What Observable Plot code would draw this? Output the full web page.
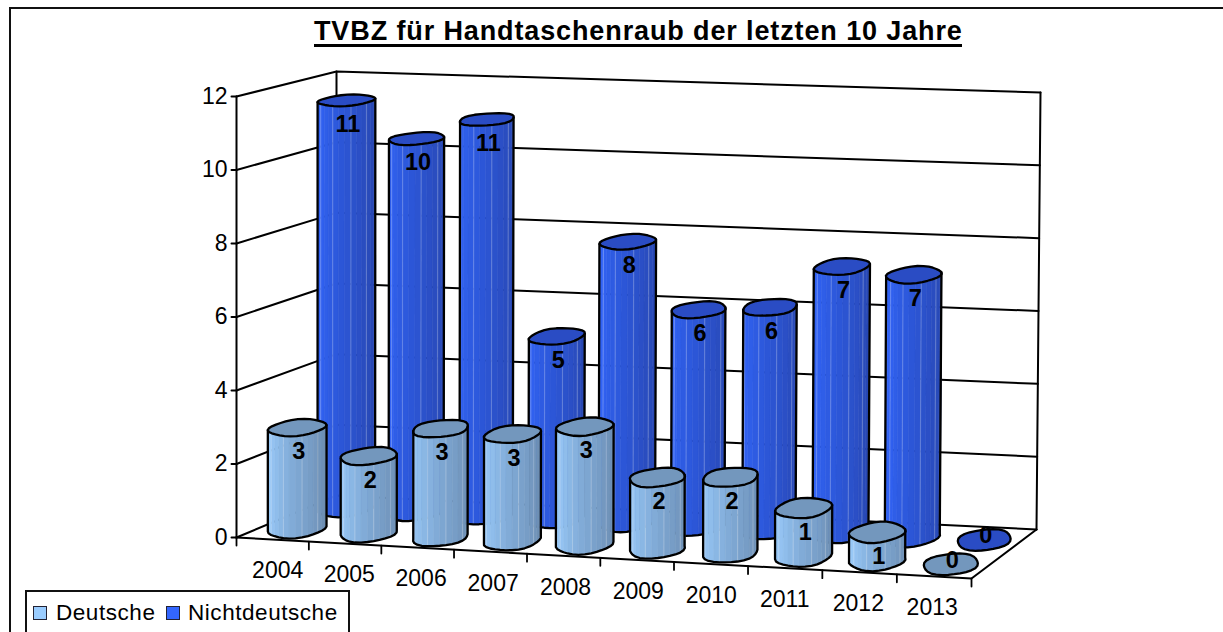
<!DOCTYPE html>
<html lang="de">
<head>
<meta charset="utf-8">
<script src="https://cdn.jsdelivr.net/npm/d3@7"></script>
<script src="https://cdn.jsdelivr.net/npm/@observablehq/plot@0.6"></script>
<style>
html,body{margin:0;padding:0;background:#fff;width:1223px;height:632px;overflow:hidden;font-family:"Liberation Sans",Arial,sans-serif;color:#000}
#wrap{position:relative;width:1223px;height:632px;overflow:hidden}
#frame{position:absolute;left:9px;top:7px;width:1300px;height:700px;border-top:2.5px solid #111;border-left:2.5px solid #111}
#title{position:absolute;left:314px;top:14px;width:648px;height:30px;line-height:34px;border-bottom:3px solid #000;text-align:center;font-weight:bold;font-size:27px;letter-spacing:.88px;white-space:nowrap}
#legend{position:absolute;left:25px;top:590px;width:321px;height:60px;border:2px solid #111;background:#fff;font-size:22.5px}
#legend span{position:absolute;top:8px;white-space:nowrap;line-height:26px}
#legend i{position:absolute;top:14px;width:12px;height:12px;border:1.5px solid #223}
svg{position:absolute;left:0;top:0}
g[aria-label="ticks"] text{letter-spacing:.35px}
</style>
</head>
<body>
<div id="wrap">
<div id="chart"></div>
<div id="frame"></div>
<div id="title">TVBZ für Handtaschenraub der letzten 10 Jahre</div>
<div id="legend">
  <i style="left:6px;background:#99ccff"></i><span style="left:29px;letter-spacing:.55px">Deutsche</span>
  <i style="left:139px;background:#3366ff"></i><span style="left:161px;letter-spacing:.55px">Nichtdeutsche</span>
</div>
</div>
<script>
// Data
const years = ["2004","2005","2006","2007","2008","2009","2010","2011","2012","2013"];
const deutsche = [2.78,2.1,2.95,2.9,3.2,1.92,2.03,1.3,0.75,0];
const nichtdeutsche = [11.4,10.4,11.0,5.05,7.75,5.95,6.1,7.3,7.15,0];
const valueTicks = [0,2,4,6,8,10,12];

// The 3-D box of the chart, as a projection of (category, depth, value)
const box = {
  flb:[236,537], flt:[236,96],  blb:[336,495], blt:[336,71],
  frb:[971,578], frt:[971,126], brb:[1036,529], brt:[1040,92]
};
const lerp=(a,b,t)=>a+(b-a)*t;
function project(u0,d,v){
  const u=u0-.005*Math.sin(Math.PI*u0);
  const w=v/12, out=[];
  for(const k of [0,1]){
    const fl=lerp(box.flb[k],box.flt[k],w), fr=lerp(box.frb[k],box.frt[k],w),
          bl=lerp(box.blb[k],box.blt[k],w), br=lerp(box.brb[k],box.brt[k],w);
    out.push(lerp(lerp(fl,fr,u),lerp(bl,br,u),d));
  }
  return out;
}
const RU=.0355, RDX=.13, RDY=.22;
function rim(i,dc,v,th){
  const uc=(i+.5)/years.length, r=1+.035*Math.sin(4*th+i*1.7);
  const u=uc+RU*r*Math.cos(th);
  const px=project(u,dc+RDX*r*Math.sin(th),v)[0];
  const py=project(u,dc+RDY*r*Math.sin(th),v)[1];
  return {x:px,y:py};
}
const N=14, STEPS=d3.range(N+1);

function cylinder(values,dc,ramp,topColor,row){
  const strips=[],tops=[],outline=[],stripes=[];
  values.forEach((v,i)=>{
    const A=RU*726, B=RDX*85, th0=Math.atan2(B,A);
    const angle=t=>th0+Math.PI+Math.PI*t;
    if(v>0){
      STEPS.slice(0,N).forEach(s=>{
        const a=angle(s/N), b=angle((s+1)/N), id=`${row}${i}-${s}`, c=ramp((s+.5)/N);
        for(const p of [rim(i,dc,0,a),rim(i,dc,0,b),rim(i,dc,v,b),rim(i,dc,v,a),rim(i,dc,0,a)])
          strips.push({...p,id,c});
        if(s%3===1){
          const sid=`${row}${i}-l${s}`;
          stripes.push({...rim(i,dc,0,b),id:sid},{...rim(i,dc,v,b),id:sid});
        }
      });
      const oid=`${row}${i}-side`;
      [rim(i,dc,v,angle(0)),...STEPS.map(s=>rim(i,dc,0,angle(s/N))),rim(i,dc,v,angle(1))]
        .forEach(p=>outline.push({...p,id:oid}));
    }
    const tid=`${row}${i}-top`;
    d3.range(29).forEach(s=>{
      const p=rim(i,dc,v,s/28*2*Math.PI);
      tops.push({...p,id:tid,c:topColor});
      outline.push({...p,id:tid});
    });
  });
  return [
    Plot.line(strips,{x:"x",y:"y",z:"id",fill:"c",stroke:"c",strokeWidth:.6}),
    Plot.line(stripes,{x:"x",y:"y",z:"id",stroke:"#fff",strokeOpacity:.22,strokeWidth:1.2}),
    Plot.line(tops,{x:"x",y:"y",z:"id",fill:"c",stroke:"none"}),
    Plot.line(outline,{x:"x",y:"y",z:"id",stroke:"#000",strokeWidth:2.3})
  ];
}

const seg=(id,pts)=>pts.map(([u,d,v])=>{const [x,y]=project(u,d,v);return {x,y,id};});
const wall=[
  ...valueTicks.flatMap(v=>seg(`g${v}`,[[0,0,v],[0,1,v],[1,1,v]])),
  ...seg("left",[[0,0,0],[0,0,12]]),
  ...seg("back",[[0,1,0],[0,1,12]]),
  ...seg("right",[[1,1,0],[1,1,12]]),
  ...seg("floor",[[0,0,0],[1,0,0],[1,1,0]])
];
const valueTickLines=valueTicks.flatMap(v=>{const [x,y]=project(0,0,v);return [{x,y,id:v},{x:x-5,y,id:v}];});
const catTicks=d3.range(years.length+1).flatMap(k=>{const [x,y]=project(k/years.length,0,0);return [{x,y,id:k},{x,y:y+8,id:k}];});

const catLabels=years.map((t,i)=>{const [x,y]=project((i+.5)/years.length,0,0);return {x:x+5-7*i/9,y:y+31.5,t};});
const valueLabels=valueTicks.map(v=>{const [x,y]=project(0,0,v);return {x:x-9,y,t:String(v)};});

const topLabel=(values,dc)=>values.map((v,i)=>{
  const [x,y]=project((i+.5)/years.length,dc,v);
  return {x:x+1.5,y:y+(v>0?24:-4),t:d3.format(".0f")(v)};
});

const ramp=(stops)=>d3.scaleLinear().domain(d3.range(stops.length).map(i=>i/(stops.length-1))).range(stops);
const blueRamp=ramp(["#3366ff","#2f5ee8","#2c55d4","#2a4dc0","#2745ac"]);
const lightRamp=ramp(["#9fd0ff","#8fbdeb","#7fa8d4","#7498c0","#6a8aac"]);

const plot=Plot.plot({
  width:1223,height:632,margin:0,
  x:{domain:[0,1223],range:[0,1223],axis:null},
  y:{domain:[0,632],range:[0,632],axis:null},
  color:{type:"identity"},
  style:{fontFamily:"'Liberation Sans',Arial,sans-serif",background:"transparent",color:"#000"},
  marks:[
    Plot.line(wall,{x:"x",y:"y",z:"id",stroke:"#000",strokeWidth:2}),
    Plot.line(valueTickLines,{x:"x",y:"y",z:"id",stroke:"#000",strokeWidth:2}),
    Plot.line(catTicks,{x:"x",y:"y",z:"id",stroke:"#000",strokeWidth:1.8}),
    ...cylinder(nichtdeutsche,.75,blueRamp,"#2a4cc4","b"),
    ...cylinder(deutsche,.25,lightRamp,"#7397bd","f"),
    Plot.text(topLabel(nichtdeutsche,.75),{x:"x",y:"y",text:"t",fontSize:23.5,fontWeight:"bold",fill:"#000"}),
    Plot.text(topLabel(deutsche,.25),{x:"x",y:"y",text:"t",fontSize:23.5,fontWeight:"bold",fill:"#000"}),
    Plot.text(catLabels,{x:"x",y:"y",text:"t",fontSize:23,fill:"#000",ariaLabel:"ticks"}),
    Plot.text(valueLabels,{x:"x",y:"y",text:"t",fontSize:23,textAnchor:"end",fill:"#000",ariaLabel:"ticks"})
  ]
});
document.getElementById("chart").appendChild(plot);
</script>
</body>
</html>
